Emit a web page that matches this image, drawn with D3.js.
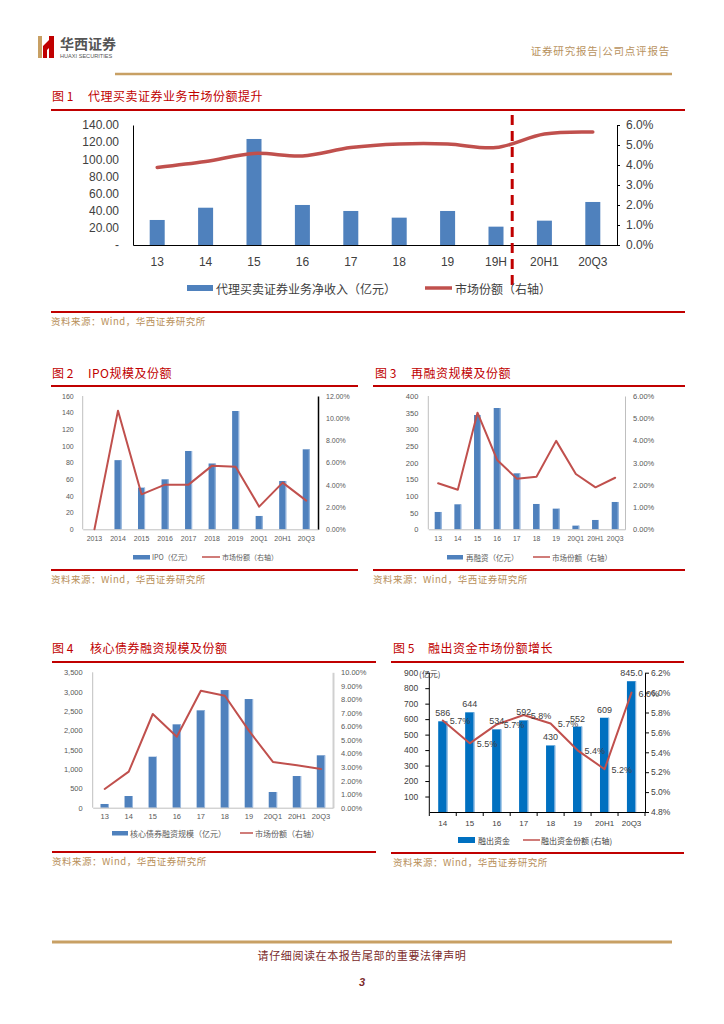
<!DOCTYPE html>
<html><head><meta charset="utf-8">
<script src="https://cdn.jsdelivr.net/npm/d3@7"></script>
<style>body{margin:0;background:#fff}svg{display:block}</style>
</head><body>
<script>
// ---------- DATA ----------
// Fig 1
const c1Categories = ['13','14','15','16','17','18','19','19H','20H1','20Q3'];
const c1Revenue = [29.2,43.5,123.7,46.7,39.7,31.9,39.7,21.4,28.4,50.2];
const c1Share = [3.88,4.17,4.58,4.45,4.87,5.05,5.05,4.87,5.55,5.65];
const c1LeftTicks = [0,20,40,60,80,100,120,140];
const c1RightTicks = [0,1,2,3,4,5,6];
// Fig 2
const c2Categories = ['2013','2014','2015','2016','2017','2018','2019','20Q1','20H1','20Q3'];
const c2IPO = [0,83,50,60,94,79,142,16,58,96];
const c2Share = [0,10.68,3.15,4.02,4.02,5.73,5.64,2.04,4.2,2.58];
const c2LeftTicks = [0,20,40,60,80,100,120,140,160];
const c2RightTicks = [0,2,4,6,8,10,12];
// Fig 3
const c3Categories = ['13','14','15','16','17','18','19','20Q1','20H1','20Q3'];
const c3Refin = [52,75,343,364,168,76,62,11,28,82];
const c3Share = [2.07,1.78,5.25,3.12,2.28,2.37,3.98,2.49,1.89,2.32];
const c3LeftTicks = [0,50,100,150,200,250,300,350,400];
const c3RightTicks = [0,1,2,3,4,5,6];
// Fig 4
const c4Categories = ['13','14','15','16','17','18','19','20Q1','20H1','20Q3'];
const c4Bond = [96,302,1318,2155,2517,3041,2809,406,819,1354];
const c4Share = [1.38,2.66,6.92,5.24,8.64,8.27,5.69,3.38,3.13,2.86];
const c4LeftTicks = [0,500,1000,1500,2000,2500,3000,3500];
const c4RightTicks = [0,1,2,3,4,5,6,7,8,9,10];
// Fig 5
const c5Categories = ['14','15','16','17','18','19','20H1','20Q3'];
const c5Funds = [586,644,534,592,430,552,609,845];
const c5FundLabels = ['586','644','534','592','430','552','609','845.0'];
const c5Share = [5.72,5.49,5.68,5.775,5.69,5.42,5.23,6.0];
const c5ShareLabels = ['5.7%','5.5%','5.7%','5.8%','5.7%','5.4%','5.2%','6.0%'];
const c5LeftTicks = [100,200,300,400,500,600,700,800,900];
const c5RightTicks = [4.8,5.0,5.2,5.4,5.6,5.8,6.0,6.2];

// ---------- SETUP ----------
const W=724,H=1024;
const svg=d3.select('body').append('svg').attr('width',W).attr('height',H);
const CJK='"Noto Sans CJK SC","Noto Sans",sans-serif';
const NUM='"Liberation Sans",Arial,sans-serif';
const RED='#c00000', GOLD='#c8a064', SRC='#b8905a';
const BLUE='#4f81bd', LRED='#c0504d';

function txt(x,y,s,o={}){
  return svg.append('text').attr('x',x).attr('y',y).text(s)
    .attr('font-family',o.ff||CJK).attr('font-size',o.fs||10)
    .attr('fill',o.fill||'#404040').attr('text-anchor',o.anchor||'start')
    .attr('dominant-baseline',o.db||'central')
    .attr('font-weight',o.fw||'normal')
    .attr('font-style',o.fst||'normal')
    .attr('letter-spacing',o.ls||0);
}
function hline(x1,x2,y,col,w){
  svg.append('line').attr('x1',x1).attr('x2',x2).attr('y1',y).attr('y2',y).attr('stroke',col).attr('stroke-width',w);
}

// ---------- HEADER ----------
svg.append('rect').attr('x',38).attr('y',36).attr('width',4).attr('height',22).attr('fill',GOLD);
svg.append('path').attr('d','M43,46 L49,40 L49,36 L54,36 L54,58 L49,58 L49,48 L47,50 L47,58 L43,58 Z').attr('fill',RED);
txt(60,43,'华西证券',{fs:14,fw:'bold',fill:'#555'});
txt(60,56,'HUAXI SECURITIES',{ff:NUM,fs:5.6,fill:'#555'});
txt(670,50,'证券研究报告|公司点评报告',{fs:10.5,fill:'#b8925e',anchor:'end',ls:0.8});
hline(115,672,74,GOLD,2.5);

// ---------- TITLES / FRAMES ----------
function frame(xs,xe,titleX,textX,titleY,title,lineY,botY,srcX){
  txt(titleX,titleY,'图 '+title[0],{fs:12,fill:RED});
  txt(textX,titleY,title[1],{fs:12,fill:RED,ls:0.5});
  hline(xs,xe,lineY,RED,2);
  hline(xs,xe,botY,RED,2);
  txt(srcX,botY+9,'资料来源：Wind，华西证券研究所',{fs:9.5,fill:SRC,ls:0.5});
}
frame(51,685,52,88,95,['1','代理买卖证券业务市场份额提升'],110,312,51);
frame(51,358,52,88,372,['2','IPO规模及份额'],386,570,51);
frame(373,685,375,411,372,['3','再融资规模及份额'],386,570,373);
frame(52,376,52,90,647,['4','核心债券融资规模及份额'],662,852,52);
frame(391,684,393,428,647,['5','融出资金市场份额增长'],662,853,393);

// ---------- COMBO CHART ----------
function styleAxis(g,o){
  g.attr('font-family',NUM).attr('font-size',o.fs);
  g.select('.domain').attr('stroke',o.col).attr('stroke-width',o.w||1);
  g.selectAll('.tick line').attr('stroke',o.col);
  g.selectAll('text').attr('fill',o.tcol||'#404040');
}
function combo(o){
  const g=svg.append('g');
  const x=d3.scaleBand().domain(o.cats).range([o.x0,o.x1]);
  const yL=d3.scaleLinear().domain([0,o.leftMax]).range([o.yBot,o.yTop]);
  const yR=d3.scaleLinear().domain(o.rightDomain).range([o.yBot,o.yTop]);
  const bw=x.bandwidth()*o.barRatio;
  const cx=c=>x(c)+x.bandwidth()/2;
  g.selectAll('rect.bar').data(o.bars).join('rect').attr('class','bar')
    .attr('x',(d,i)=>cx(o.cats[i])-bw/2).attr('width',bw)
    .attr('y',d=>yL(d)).attr('height',d=>yL(0)-yL(d)).attr('fill',o.barColor);
  if(o.edge){
    g.selectAll('rect.edge').data(o.bars).join('rect').attr('class','edge')
      .attr('x',(d,i)=>cx(o.cats[i])+bw/2-1).attr('width',1)
      .attr('y',d=>yL(d)).attr('height',d=>yL(0)-yL(d)).attr('fill',o.edge);
  }
  const gl=g.append('g').attr('transform',`translate(${o.x0},0)`)
    .call(d3.axisLeft(yL).tickValues(o.leftTicks).tickFormat(o.leftFmt)
      .tickSizeInner(o.lTick||0).tickSizeOuter(0).tickPadding(o.lPad));
  styleAxis(gl,o.lStyle);
  if(o.leftFull) gl.select('.domain').attr('d',`M0,${o.yTop}V${o.yBot}`);
  const gr=g.append('g').attr('transform',`translate(${o.x1},0)`)
    .call(d3.axisRight(yR).tickValues(o.rightTicks).tickFormat(o.rightFmt)
      .tickSizeInner(o.rTick||0).tickSizeOuter(0).tickPadding(o.rPad));
  styleAxis(gr,o.rStyle);
  const gb=g.append('g').attr('transform',`translate(0,${o.yBot})`)
    .call(d3.axisBottom(x).tickSize(0).tickPadding(o.bPad));
  styleAxis(gb,o.bStyle);
  if(o.catTicks){
    g.selectAll('line.ct').data(o.cats.map(c=>x(c)).concat([o.x1])).join('line').attr('class','ct')
      .attr('x1',d=>d).attr('x2',d=>d).attr('y1',o.yBot).attr('y2',o.yBot+4)
      .attr('stroke',o.bStyle.col).attr('stroke-width',1);
  }
  const lg=d3.line().x((d,i)=>cx(o.cats[i])).y(d=>yR(d)).curve(o.curve||d3.curveLinear);
  g.append('path').attr('d',lg(o.line)).attr('fill','none').attr('stroke',LRED)
    .attr('stroke-width',o.lineW).attr('stroke-linejoin','round').attr('stroke-linecap','round');
  return {x,yL,yR,cx,bw};
}

// ---------- FIG 1 ----------
const f1=combo({cats:c1Categories,bars:c1Revenue,line:c1Share,x0:133,x1:617,yTop:125,yBot:245,
  leftMax:140,rightDomain:[0,6],barRatio:0.31,barColor:BLUE,lineW:3.5,curve:d3.curveCatmullRom,
  leftTicks:c1LeftTicks,leftFmt:d=>d===0?'-':d.toFixed(2),lPad:14,
  rightTicks:c1RightTicks,rightFmt:d=>d.toFixed(1)+'%',rTick:3,rPad:6,bPad:12.5,
  lStyle:{fs:12,col:'#000'},rStyle:{fs:12,col:'#000'},bStyle:{fs:12,col:'#000',w:1.2}});
svg.append('line').attr('x1',f1.x('20H1')-8).attr('x2',f1.x('20H1')-8).attr('y1',115).attr('y2',286)
  .attr('stroke',RED).attr('stroke-width',3).attr('stroke-dasharray','10,6');
svg.append('rect').attr('x',187).attr('y',285).attr('width',26).attr('height',6).attr('fill',BLUE);
txt(216,288,'代理买卖证券业务净收入（亿元）',{fs:12,fill:'#404040'});
hline(425,452,288,LRED,3.5);
txt(455,288,'市场份额（右轴）',{fs:12,fill:'#404040'});

// ---------- FIG 2 ----------
const gray={fs:7,col:'#bfbfbf',tcol:'#595959'};
combo({cats:c2Categories,bars:c2IPO,line:c2Share,x0:82.7,x1:318,yTop:396,yBot:529.3,
  leftMax:160,rightDomain:[0,12],barRatio:0.3,barColor:BLUE,edge:'#9dbbe0',lineW:2,
  leftTicks:c2LeftTicks,leftFmt:d=>d,lPad:9,leftFull:true,
  rightTicks:c2RightTicks,rightFmt:d=>d.toFixed(2)+'%',rPad:8,bPad:6.5,
  lStyle:gray,rStyle:{fs:7,col:'#000',w:1.5,tcol:'#595959'},bStyle:gray});
svg.append('rect').attr('x',133).attr('y',555).attr('width',17).attr('height',4.5).attr('fill',BLUE);
txt(152,557,'IPO（亿元）',{fs:7,fill:'#595959'});
hline(202,220,557,LRED,1.5);
txt(222,557,'市场份额（右轴）',{fs:7,fill:'#595959'});

// ---------- FIG 3 ----------
const gray8={fs:7.5,col:'#bfbfbf',tcol:'#595959'};
combo({cats:c3Categories,bars:c3Refin,line:c3Share,x0:428.3,x1:625,yTop:396,yBot:529.3,
  leftMax:400,rightDomain:[0,6],barRatio:0.35,barColor:BLUE,edge:'#9dbbe0',lineW:2,
  leftTicks:c3LeftTicks,leftFmt:d=>d,lPad:10,leftFull:true,
  rightTicks:c3RightTicks,rightFmt:d=>d.toFixed(2)+'%',rPad:8,bPad:6.5,
  lStyle:gray8,rStyle:gray8,bStyle:{fs:6.8,col:'#bfbfbf',tcol:'#595959'}});
svg.append('rect').attr('x',447).attr('y',555).attr('width',16).attr('height',4.5).attr('fill',BLUE);
txt(466,557,'再融资（亿元）',{fs:7.5,fill:'#595959'});
hline(533,550,557,LRED,1.5);
txt(552,557,'市场份额（右轴）',{fs:7.5,fill:'#595959'});

// ---------- FIG 4 ----------
combo({cats:c4Categories,bars:c4Bond,line:c4Share,x0:92.7,x1:333,yTop:672.3,yBot:807.7,
  leftMax:3500,rightDomain:[0,10],barRatio:0.35,barColor:BLUE,edge:'#9dbbe0',lineW:2,
  leftTicks:c4LeftTicks,leftFmt:d3.format(','),lPad:10,leftFull:true,
  rightTicks:c4RightTicks,rightFmt:d=>d.toFixed(2)+'%',rPad:8,bPad:5.5,
  lStyle:{fs:7.5,col:'#bfbfbf',tcol:'#595959'},rStyle:{fs:7.5,col:'#d0d0d0',w:2,tcol:'#595959'},
  bStyle:{fs:7.5,col:'#bfbfbf',tcol:'#595959'}});
svg.append('rect').attr('x',112).attr('y',831).attr('width',16).attr('height',4.5).attr('fill',BLUE);
txt(130,833,'核心债券融资规模（亿元）',{fs:8,fill:'#595959'});
hline(240,253,833,LRED,1.5);
txt(255,833,'市场份额（右轴）',{fs:8,fill:'#595959'});

// ---------- FIG 5 ----------
const blk={fs:8.5,col:'#000',tcol:'#404040'};
const f5=combo({cats:c5Categories,bars:c5Funds,line:c5Share,x0:429.3,x1:645,yTop:672.7,yBot:812,
  leftMax:900,rightDomain:[4.8,6.2],barRatio:0.34,barColor:'#0070c0',edge:'#8fb8e0',lineW:2,
  leftTicks:c5LeftTicks,leftFmt:d=>d,lTick:4,lPad:7,leftFull:true,
  rightTicks:c5RightTicks,rightFmt:d=>d.toFixed(1)+'%',rTick:4,rPad:2,bPad:8.5,catTicks:true,
  lStyle:blk,rStyle:blk,bStyle:{fs:8,col:'#000',tcol:'#404040'}});
txt(419,673,'(亿元)',{fs:8,fill:'#404040'});
svg.append('g').selectAll('text').data(c5Funds).join('text')
  .attr('x',(d,i)=>f5.cx(c5Categories[i])).attr('y',d=>f5.yL(d)-5)
  .attr('text-anchor','middle').attr('font-family',NUM).attr('font-size',9).attr('fill','#404040')
  .text((d,i)=>c5FundLabels[i]);
svg.append('g').selectAll('text').data(c5Share).join('text')
  .attr('x',(d,i)=>f5.cx(c5Categories[i])+7).attr('y',d=>f5.yR(d)+1)
  .attr('dominant-baseline','central').attr('font-family',NUM).attr('font-size',9).attr('fill','#404040')
  .text((d,i)=>c5ShareLabels[i]);
svg.append('rect').attr('x',458).attr('y',837).attr('width',17).attr('height',6).attr('fill','#0070c0');
txt(478,840,'融出资金',{fs:8,fill:'#404040'});
hline(523,540,840,LRED,1.5);
txt(541,840,'融出资金份额 (右轴)',{fs:8,fill:'#404040'});

// ---------- FOOTER ----------
hline(52,672,942,GOLD,3);
txt(362,955,'请仔细阅读在本报告尾部的重要法律声明',{fs:11,fill:'#7b2a2a',anchor:'middle',ls:0.6});
txt(362,982,'3',{ff:NUM,fs:11,fill:'#7b2a2a',anchor:'middle',fw:'bold',fst:'italic'});
</script>
</body></html>
